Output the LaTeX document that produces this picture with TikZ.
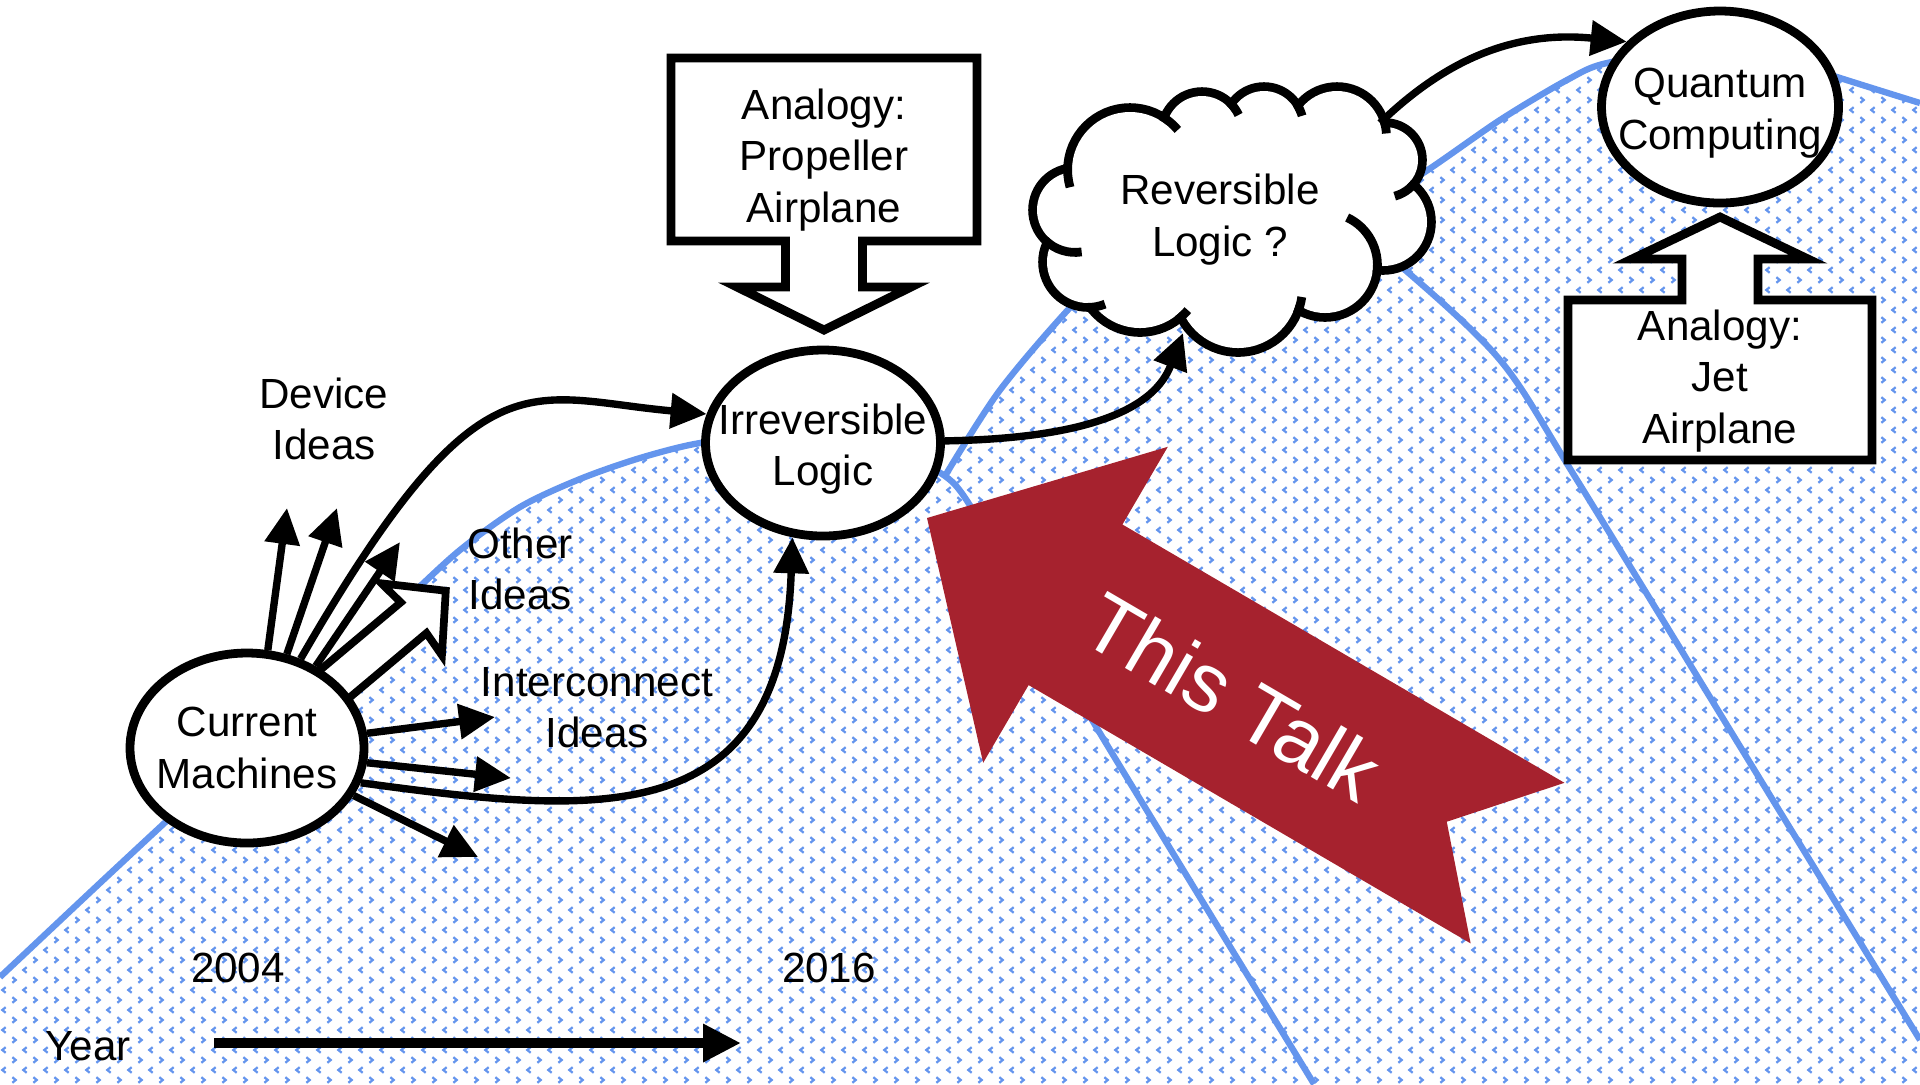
\documentclass[tikz,border=0pt]{standalone}
\usepackage{fontspec}
\setmainfont{Liberation Sans}
\usepackage{tikz}
\usetikzlibrary{arrows.meta,patterns,shapes.geometric}
\definecolor{bellblue}{RGB}{100,149,237}
\definecolor{talkred}{RGB}{166,34,46}
\newcommand{\lbl}{\fontsize{12pt}{14.6pt}\selectfont}
\newcommand{\puffs}{11.30/-1.70/0.58, 10.75/-2.10/0.38, 10.88/-2.62/0.41, 11.40/-2.70/0.58, 12.38/-2.88/0.60, 13.25/-2.65/0.48, 13.83/-2.22/0.44, 13.85/-1.60/0.33, 13.37/-1.36/0.45, 12.64/-1.26/0.35, 12.02/-1.32/0.36}
\pgfdeclarepatternformonly{chevrons}{\pgfpointorigin}{\pgfpoint{0.21cm}{0.2cm}}{\pgfpoint{0.21cm}{0.2cm}}{%
  \pgfsetlinewidth{0.65pt}
  \pgfpathmoveto{\pgfpoint{0.07cm}{0.178cm}}
  \pgfpathlineto{\pgfpoint{0.035cm}{0.15cm}}
  \pgfpathlineto{\pgfpoint{0.07cm}{0.122cm}}
  \pgfpathmoveto{\pgfpoint{0.14cm}{0.078cm}}
  \pgfpathlineto{\pgfpoint{0.175cm}{0.05cm}}
  \pgfpathlineto{\pgfpoint{0.14cm}{0.022cm}}
  \pgfusepath{stroke}
}
\tikzset{
  bubble/.style={ellipse, draw, line width=2.5pt, fill=white, inner sep=0pt},
  callout/.style={draw, line width=2.5pt, fill=white},
  arr/.style={line width=2.1pt, -{Triangle[length=0.36cm,width=0.34cm]}},
  bell/.style={bellblue, line width=1.8pt},
}

\begin{document}
\begin{tikzpicture}[every node/.style={font=\lbl, align=center}]
    \useasboundingbox (0,0) rectangle (19.2,-10.84);

    % Shaded bells
    \fill[pattern=chevrons, pattern color=bellblue]
      (0,-10.84) -- plot[smooth] coordinates {(0,-9.77) (1.00,-8.83) (2.00,-7.90) (3.00,-6.97) (4.00,-6.05) (4.60,-5.50) (5.20,-5.07) (5.80,-4.79) (6.40,-4.58) (7.00,-4.43) (7.70,-4.37) (8.40,-4.40) (9.00,-4.55) (9.45,-4.76) (9.71,-5.07) (10.30,-6.10) (10.88,-7.13) (11.57,-8.27) (12.26,-9.40) (13.14,-10.84)} -- cycle
      (9.45,-10.84) -- plot[smooth] coordinates {(9.45,-4.76) (10.00,-3.90) (10.77,-3.00) (11.60,-2.20) (12.40,-1.85) (13.20,-2.05) (13.97,-2.63) (15.00,-3.60) (15.77,-4.80) (17.63,-7.84) (19.20,-10.40)} -- (19.2,-10.84) -- cycle
      (13.40,-10.84) -- plot[smooth] coordinates {(13.40,-2.20) (14.17,-1.77) (15.00,-1.20) (15.67,-0.80) (16.07,-0.63) (17.00,-0.50) (17.80,-0.58) (18.37,-0.77) (19.20,-1.03)} -- (19.2,-10.84) -- cycle;
    \draw[bell] plot[smooth] coordinates {(0,-9.77) (1.00,-8.83) (2.00,-7.90) (3.00,-6.97) (4.00,-6.05) (4.60,-5.50) (5.20,-5.07) (5.80,-4.79) (6.40,-4.58) (7.00,-4.43) (7.70,-4.37) (8.40,-4.40) (9.00,-4.55) (9.45,-4.76) (9.71,-5.07) (10.30,-6.10) (10.88,-7.13) (11.57,-8.27) (12.26,-9.40) (13.14,-10.84)};
    \draw[bell] plot[smooth] coordinates {(9.45,-4.76) (10.00,-3.90) (10.77,-3.00) (11.60,-2.20) (12.40,-1.85) (13.20,-2.05) (13.97,-2.63) (15.00,-3.60) (15.77,-4.80) (17.63,-7.84) (19.20,-10.40)};
    \draw[bell] plot[smooth] coordinates {(13.40,-2.20) (14.17,-1.77) (15.00,-1.20) (15.67,-0.80) (16.07,-0.63) (17.00,-0.50) (17.80,-0.58) (18.37,-0.77) (19.20,-1.03)};

    % This Talk arrow
    \begin{scope}[shift={(9.27,-5.18)}, rotate=-30.3]
        \fill[talkred] (0,0) -- (1.72,1.83) -- (1.72,0.93) -- (6.84,0.93) -- (6.02,0) -- (6.84,-0.93) -- (1.72,-0.93) -- (1.72,-1.83) -- cycle;
        \node[white, rotate=-30.3, font=\fontsize{23.5pt}{28pt}\selectfont] (talk) at (3.54,0) {This Talk};
    \end{scope}

    % Cloud from puffs
    \foreach \x/\y/\r in \puffs \draw[line width=5pt] (\x,\y) circle (\r);
    \foreach \x/\y/\r in \puffs \fill[white] (\x,\y) circle (\r);
    \fill[white] (11.30,-1.70) -- (10.75,-2.10) -- (10.88,-2.62) -- (11.40,-2.70) -- (12.38,-2.88) -- (13.25,-2.65) -- (13.83,-2.22) -- (13.85,-1.60) -- (13.37,-1.36) -- (12.64,-1.26) -- (12.02,-1.32) -- cycle;
    % inner curls of the puffs
    \foreach \x/\y/\R/\s/\e in {11.30/-1.70/0.624/175/196, 10.75/-2.10/0.424/226/279, 10.88/-2.62/0.454/269/292,
        11.40/-2.70/0.624/307/320, 12.38/-2.88/0.644/337/352, 13.25/-2.65/0.524/-8/65, 13.85/-1.60/0.374/-38/-75,
        13.37/-1.36/0.494/19/3, 12.64/-1.26/0.394/34/15, 12.02/-1.32/0.404/47/25, 11.30/-1.70/0.624/60/40}
        \draw[line width=2.5pt] (\x,\y) ++(\s:\R) arc (\s:\e:\R);
    \node (rev) at (12.20,-2.195) {Reversible\\Logic ?};
    \coordinate (revS) at (11.83,-3.33);
    \coordinate (revNE) at (13.80,-1.23);

    % Analogy callouts
    \draw[callout] (6.71,-0.58) -- (9.77,-0.58) -- (9.77,-2.41) -- (8.625,-2.41) -- (8.625,-2.87) -- (9.11,-2.87) -- (8.24,-3.30) -- (7.37,-2.87) -- (7.855,-2.87) -- (7.855,-2.41) -- (6.71,-2.41) -- cycle;
    \node (prop) at (8.24,-1.60) {Analogy:\\Propeller\\Airplane};
    \draw[callout] (15.68,-3.00) -- (16.82,-3.00) -- (16.82,-2.59) -- (16.32,-2.59) -- (17.20,-2.17) -- (18.08,-2.59) -- (17.58,-2.59) -- (17.58,-3.00) -- (18.72,-3.00) -- (18.72,-4.60) -- (15.68,-4.60) -- cycle;
    \node (jet) at (17.20,-3.81) {Analogy:\\Jet\\Airplane};

    % Hollow arrow to Other Ideas
    \begin{scope}[shift={(3.37,-6.82)}, rotate=40]
        \draw[callout, line width=2.2pt] (-0.1,-0.2) -- (1.0,-0.2) -- (0.975,-0.47) -- (1.42,0) -- (0.975,0.47) -- (1.0,0.2) -- (-0.1,0.2) -- cycle;
    \end{scope}

    % Main nodes
    \node[bubble, minimum width=2.34cm, minimum height=1.90cm, label={center:Current\\Machines}] (cur) at (2.47,-7.48) {};
    \node[bubble, minimum width=2.35cm, minimum height=1.86cm, label={[yshift=-0.06cm]center:Irreversible\\Logic}] (irr) at (8.23,-4.43) {};
    \node[bubble, minimum width=2.37cm, minimum height=1.92cm, label={[yshift=-0.06cm]center:Quantum\\Computing}] (qc) at (17.20,-1.07) {};

    % Idea arrows
    \coordinate (dev1) at (2.87,-5.08);
    \coordinate (dev2) at (3.37,-5.08);
    \coordinate (dev3) at (4.00,-5.42);
    \coordinate (int1) at (4.95,-7.17);
    \coordinate (int2) at (5.11,-7.78);
    \coordinate (int3) at (4.78,-8.57);
    \foreach \a/\t in {78/dev1, 67/dev2, 50/dev3, 7/int1, 353/int2, 336/int3}
        \draw[arr] (cur.\a) -- (\t);
    \draw[arr] (cur.59) .. controls +(1.80,3.12) and +(-1.79,0.16) .. (irr.166);
    \draw[arr] (cur.343) .. controls +(2.36,-0.32) and +(-0.10,-2.97) .. (irr.252);
    \draw[arr] (irr.1) .. controls +(1.13,0.02) and +(-0.33,-0.87) .. (revS);
    \draw[arr] (revNE) .. controls +(0.60,0.58) and +(-1.18,0.12) .. (qc.145);

    % Labels
    \node (dev) at (3.24,-4.19) {Device\\Ideas};
    \node (other) at (5.20,-5.69) {Other\\Ideas};
    \node (inter) at (5.97,-7.08) {Interconnect\\Ideas};

    % Timeline
    \node (y2004) at (2.38,-9.68) {2004};
    \node (y2016) at (8.29,-9.68) {2016};
    \node (year) at (0.88,-10.46) {Year};
    \coordinate (ystart) at (2.14,-10.43);
    \coordinate (yend) at (7.41,-10.43);
    \draw[line width=2.9pt, -{Triangle[length=0.38cm,width=0.36cm]}] (ystart) -- (yend);
\end{tikzpicture}
\end{document}
